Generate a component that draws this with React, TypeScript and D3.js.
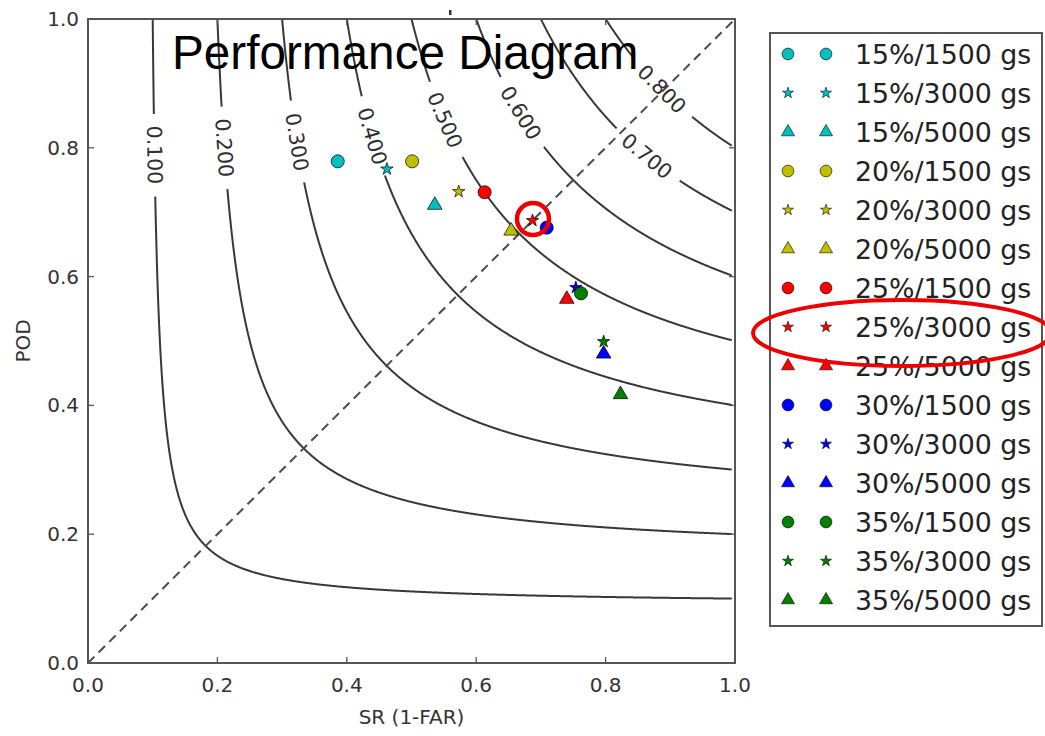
import React from "react";
import * as d3 from "d3";

// scatter series
const seriesNames = [
  "15%/1500 gs", "15%/3000 gs", "15%/5000 gs",
  "20%/1500 gs", "20%/3000 gs", "20%/5000 gs",
  "25%/1500 gs", "25%/3000 gs", "25%/5000 gs",
  "30%/1500 gs", "30%/3000 gs", "30%/5000 gs",
  "35%/1500 gs", "35%/3000 gs", "35%/5000 gs",
];
const seriesColors = [
  "#00bfbf", "#00bfbf", "#00bfbf",
  "#bfbf00", "#bfbf00", "#bfbf00",
  "#ff0000", "#ff0000", "#ff0000",
  "#0000ff", "#0000ff", "#0000ff",
  "#008000", "#008000", "#008000",
];
const seriesMarkers = [
  "circle", "star", "triangle",
  "circle", "star", "triangle",
  "circle", "star", "triangle",
  "circle", "star", "triangle",
  "circle", "star", "triangle",
];
const srValues = [0.386, 0.462, 0.536, 0.501, 0.573, 0.654, 0.613, 0.687, 0.74, 0.709, 0.754, 0.797, 0.762, 0.797, 0.823];
const podValues = [0.779, 0.767, 0.711, 0.779, 0.732, 0.671, 0.731, 0.687, 0.565, 0.676, 0.583, 0.48, 0.574, 0.499, 0.417];

// CSI contour levels and where their labels sit (as POD)
const csiLevels = [0.1, 0.2, 0.3, 0.4, 0.5, 0.6, 0.7, 0.8];
const csiLabelPod = [0.789, 0.8, 0.809, 0.818, 0.843, 0.854, 0.787, 0.891];

const axisTicks = [0, 0.2, 0.4, 0.6, 0.8, 1.0];

const W = 1045;
const H = 736;
const margin = { left: 88, right: 310, top: 19, bottom: 73 };

const x = d3.scaleLinear().domain([0, 1]).range([margin.left, W - margin.right]);
const y = d3.scaleLinear().domain([0, 1]).range([H - margin.bottom, margin.top]);

const FONT = "'DejaVu Sans', sans-serif";
const symbolType = { circle: d3.symbolCircle, star: d3.symbolStar, triangle: d3.symbolTriangle };
const plotSize = { circle: 135, star: 48, triangle: 92 };
const legendSize = { circle: 110, star: 38, triangle: 74 };

const other = (c, v) => 1 / (1 / c + 1 - 1 / v);

function contourPieces(c, labelPod) {
  const pts = [];
  for (let i = 0; i <= 800; i++) {
    const sr = c + ((0.995 - c) * i) / 800;
    pts.push([sr, other(c, sr)]);
  }
  for (let i = 0; i <= 800; i++) {
    const pod = 1 - ((1 - c) * i) / 800;
    const sr = other(c, pod);
    if (sr <= 0.995) pts.push([sr, pod]);
  }
  pts.sort((a, b) => a[0] - b[0]);
  const scr = pts.map(([a, b]) => [x(a), y(b)]);
  const s = [0];
  for (let i = 1; i < scr.length; i++) {
    s.push(s[i - 1] + Math.hypot(scr[i][0] - scr[i - 1][0], scr[i][1] - scr[i - 1][1]));
  }
  const lx = x(other(c, labelPod));
  const ly = y(labelPod);
  let best = 0;
  scr.forEach((p, i) => {
    if (Math.hypot(p[0] - lx, p[1] - ly) < Math.hypot(scr[best][0] - lx, scr[best][1] - ly)) best = i;
  });
  const s0 = s[best];
  const half = 41;
  const before = scr.filter((_, i) => s[i] < s0 - half);
  const after = scr.filter((_, i) => s[i] > s0 + half);
  const a = scr.find((_, i) => s[i] >= s0 - 6) || scr[best];
  const b = scr.find((_, i) => s[i] >= s0 + 6) || scr[best];
  const angle = (Math.atan2(b[1] - a[1], b[0] - a[0]) * 180) / Math.PI;
  return { before, after, lx, ly, angle };
}

const line = d3.line();

export default function App() {
  const contours = csiLevels.map((c, i) => ({ c, ...contourPieces(c, csiLabelPod[i]) }));
  const tickLen = 6;

  return (
    <svg width={W} height={H} style={{ position: "absolute", left: 0, top: 0, background: "#fff" }}>
      {/* contours */}
      {contours.map((d) => (
        <g key={d.c}>
          <path d={line(d.before)} fill="none" stroke="#383838" strokeWidth={2} />
          <path d={line(d.after)} fill="none" stroke="#383838" strokeWidth={2} />
          <text
            x={d.lx}
            y={d.ly}
            transform={`rotate(${d.angle},${d.lx},${d.ly})`}
            textAnchor="middle"
            dominantBaseline="central"
            fontFamily={FONT}
            fontSize={20.5}
            fill="#2e2e2e"
          >
            {d.c.toFixed(3)}
          </text>
        </g>
      ))}

      {/* diagonal */}
      <line x1={x(0)} y1={y(0)} x2={x(1)} y2={y(1)} stroke="#4a4a4a" strokeWidth={2} strokeDasharray="9,6" />

      {/* points */}
      {srValues.map((sr, i) => (
        <path
          key={i}
          d={d3.symbol(symbolType[seriesMarkers[i]], plotSize[seriesMarkers[i]])()}
          transform={`translate(${x(sr)},${y(podValues[i])})`}
          fill={seriesColors[i]}
          stroke="#000"
          strokeWidth={0.7}
        />
      ))}

      {/* frame and ticks */}
      <rect x={x(0)} y={y(1)} width={x(1) - x(0)} height={y(0) - y(1)} fill="none" stroke="#555" strokeWidth={2} />
      {axisTicks.map((t) => (
        <g key={t} stroke="#555" strokeWidth={1.3}>
          <line x1={x(t)} x2={x(t)} y1={y(0)} y2={y(0) - tickLen} />
          <line x1={x(t)} x2={x(t)} y1={y(1)} y2={y(1) + tickLen} />
          <line x1={x(0)} x2={x(0) + tickLen} y1={y(t)} y2={y(t)} />
          <line x1={x(1)} x2={x(1) - tickLen} y1={y(t)} y2={y(t)} />
        </g>
      ))}
      <rect x={449} y={10} width={2.5} height={5} fill="#333" />
      {axisTicks.map((t) => (
        <text key={"x" + t} x={x(t)} y={y(0) + 29} textAnchor="middle" fontFamily={FONT} fontSize={20} fill="#333">
          {t.toFixed(1)}
        </text>
      ))}
      {axisTicks.map((t) => (
        <text key={"y" + t} x={x(0) - 9} y={y(t)} textAnchor="end" dominantBaseline="central" fontFamily={FONT} fontSize={20} fill="#333">
          {t.toFixed(1)}
        </text>
      ))}
      <text x={(x(0) + x(1)) / 2} y={724} textAnchor="middle" fontFamily={FONT} fontSize={20} fill="#333">
        SR (1-FAR)
      </text>
      <text
        x={30}
        y={(y(0) + y(1)) / 2}
        transform={`rotate(-90,30,${(y(0) + y(1)) / 2})`}
        textAnchor="middle"
        fontFamily={FONT}
        fontSize={20}
        fill="#333"
      >
        POD
      </text>

      {/* title */}
      <text x={172} y={69} fontFamily="'Liberation Sans', Arial, sans-serif" fontSize={47.7} fill="#000">
        Performance Diagram
      </text>

      {/* legend */}
      <rect x={770} y={33} width={272} height={593} fill="#fff" stroke="#555" strokeWidth={2} />
      {seriesNames.map((name, i) => {
        const ry = 54 + i * 39;
        const sym = d3.symbol(symbolType[seriesMarkers[i]], legendSize[seriesMarkers[i]])();
        return (
          <g key={name}>
            {[788, 826].map((mx) => (
              <path key={mx} d={sym} transform={`translate(${mx},${ry})`} fill={seriesColors[i]} stroke="#000" strokeWidth={0.6} />
            ))}
            <text x={855} y={ry} dominantBaseline="central" fontFamily={FONT} fontSize={26.8} fill="#222">
              {name}
            </text>
          </g>
        );
      })}

      {/* red annotations */}
      <circle cx={533} cy={219} r={16} fill="none" stroke="#ee0000" strokeWidth={4.5} />
      <ellipse cx={902} cy={333} rx={149} ry={33} fill="none" stroke="#ee0000" strokeWidth={4} />
    </svg>
  );
}
